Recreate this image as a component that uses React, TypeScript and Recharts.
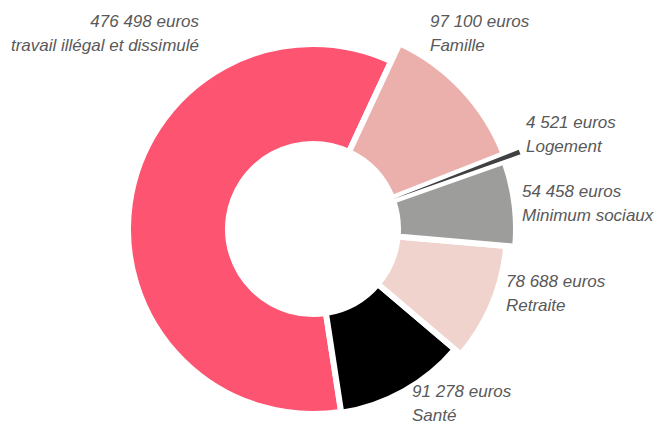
import { PieChart, Pie, Cell } from 'recharts';

// montants par poste (euros), dans le sens horaire à partir de "Famille"
const categories = ['Famille', 'Logement', 'Minimum sociaux', 'Retraite', 'Santé', 'travail illégal et dissimulé'];
const amounts = [97100, 4521, 54458, 78688, 91278, 476498];
const colors = ['#EBAFAC', '#404040', '#9D9D9C', '#F0D3CC', '#000000', '#FD5471'];

// rayon extérieur de chaque part (les parts ne sont pas toutes au même rayon)
const outerRadii = [205, 222, 203, 194, 186, 185];
const gapWidths = [6, 3, 6, 6, 6, 6];
// ordre de dessin : la grosse part d'abord, Logement en dernier
const drawOrder = [5, 4, 3, 2, 0, 1];

// position des étiquettes: [x, y ligne 1, ancrage]
const labelPos: [number, number, string][] = [
  [430, 27, 'start'],
  [526, 128, 'start'],
  [522, 197, 'start'],
  [506, 287, 'start'],
  [412, 397, 'start'],
  [199, 27, 'end'],
];

const data = categories.map((name, i) => ({ name, value: amounts[i] }));

const fmt = (v: number) => v.toString().replace(/\B(?=(\d{3})+(?!\d))/g, ' ');

const renderLabel = (props: any) => {
  const i = props.index;
  const [x, y, anchor] = labelPos[i];
  return (
    <text
      key={'lbl' + i}
      x={x}
      y={y}
      textAnchor={anchor as any}
      fill="#595959"
      fontSize={17}
      fontStyle="italic"
      fontFamily='"Liberation Sans", Arial, sans-serif'
    >
      <tspan x={x} y={y}>{fmt(amounts[i]) + ' euros'}</tspan>
      <tspan x={x} y={y + 24}>{categories[i]}</tspan>
    </text>
  );
};

export default function App() {
  return (
    <div style={{ position: 'absolute', left: 0, top: 0 }}>
      <PieChart width={658} height={424} margin={{ top: 0, right: 0, bottom: 0, left: 0 }}>
        {drawOrder.map((k, n) => (
          <Pie
            key={k}
            data={data}
            dataKey="value"
            nameKey="name"
            cx={313}
            cy={229}
            innerRadius={85}
            outerRadius={outerRadii[k]}
            startAngle={65}
            endAngle={-295}
            isAnimationActive={false}
            label={n === 0 ? renderLabel : false}
            labelLine={false}
          >
            {data.map((d, i) => (
              <Cell
                key={d.name}
                fill={i === k ? colors[i] : 'transparent'}
                stroke={i === k ? '#ffffff' : 'none'}
                strokeWidth={i === k ? gapWidths[i] : 0}
              />
            ))}
          </Pie>
        ))}
      </PieChart>
    </div>
  );
}
